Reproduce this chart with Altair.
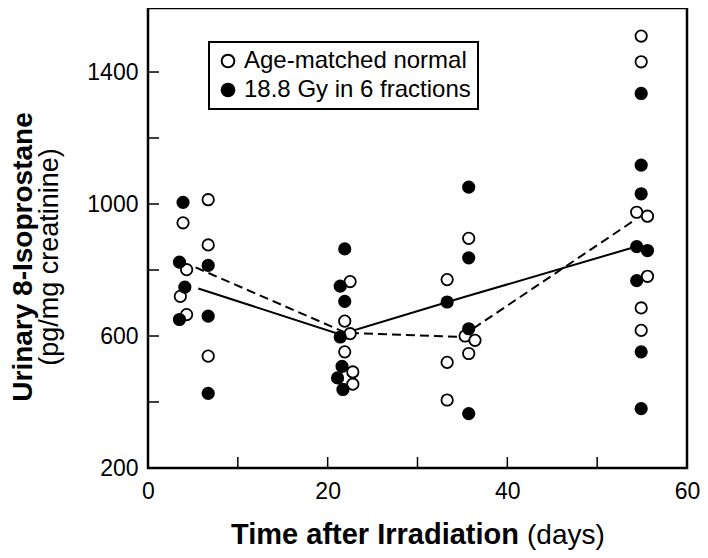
import altair as alt
import pandas as pd

# ---- data ----
normal_label = "Age-matched normal"
irr_label = "18.8 Gy in 6 fractions"

normal_day = [6.7, 3.9, 6.7, 4.3, 3.6, 4.3, 6.7,
              22.5, 21.9, 22.5, 21.9, 22.8, 22.8,
              35.7, 33.3, 35.3, 36.4, 35.7, 33.3, 33.3,
              54.9, 54.9, 54.4, 55.6, 55.6, 54.9, 54.9]
normal_val = [1013, 943, 876, 801, 720, 665, 539,
              765, 645, 607, 552, 491, 454,
              896, 771, 600, 587, 547, 520, 406,
              1509, 1431, 975, 963, 781, 685, 617]

irr_day = [3.9, 3.5, 6.7, 4.1, 3.5, 6.7, 6.7,
           21.9, 21.4, 21.9, 21.4, 21.6, 21.1, 21.7,
           35.7, 35.7, 33.3, 35.7, 35.7,
           54.9, 54.9, 54.9, 54.4, 55.6, 54.4, 54.9, 54.9]
irr_val = [1005, 824, 814, 748, 650, 660, 426,
           864, 751, 705, 597, 508, 473, 438,
           1051, 837, 703, 622, 365,
           1335, 1118, 1031, 871, 859, 768, 552, 380]

normal_line_day = [5.3, 22.0, 34.8, 54.1]
normal_line_val = [808, 610, 597, 950]
irr_line_day = [5.6, 21.4, 35.2, 54.1]
irr_line_val = [744, 605, 718, 869]

x_ticks = [0, 10, 20, 30, 40, 50, 60]
x_labels = [0, 20, 40, 60]
y_ticks = [200, 400, 600, 800, 1000, 1200, 1400]
y_labels = [200, 600, 1000, 1400]

x_title_bold = "Time after Irradiation"
x_title_norm = "(days)"
y_title_bold = "Urinary 8-Isoprostane"
y_title_norm = "(pg/mg creatinine)"

# ---- tables ----
pts = pd.DataFrame({
    "day": normal_day + irr_day,
    "val": normal_val + irr_val,
    "series": [normal_label] * len(normal_day) + [irr_label] * len(irr_day),
})
nline = pd.DataFrame({"day": normal_line_day, "val": normal_line_val})
iline = pd.DataFrame({"day": irr_line_day, "val": irr_line_val})
xt = pd.DataFrame({"day": x_ticks})
yt = pd.DataFrame({"val": y_ticks})

W, H = 539, 460
FONT = "Liberation Sans"

xscale = alt.Scale(domain=[0, 60], nice=False, zero=False)
yscale = alt.Scale(domain=[200, 1594], nice=False, zero=False)

xaxis = alt.Axis(values=x_labels, title=None, ticks=False, domain=False, grid=False,
                 labelFontSize=23, labelFont=FONT, labelColor="black", labelPadding=12,
                 labelFlush=False, format="d")
yaxis = alt.Axis(values=y_labels, title=None, ticks=False, domain=False, grid=False,
                 labelFontSize=23, labelFont=FONT, labelColor="black", labelPadding=10,
                 format="d")

X = alt.X("day:Q", scale=xscale, axis=xaxis)
Y = alt.Y("val:Q", scale=yscale, axis=yaxis)

xtick = alt.Chart(xt).mark_rule(color="black", strokeWidth=1.5).encode(
    x=alt.X("day:Q", scale=xscale, axis=xaxis),
    y=alt.value(H), y2=alt.value(H - 11))
ytick = alt.Chart(yt).mark_rule(color="black", strokeWidth=1.5).encode(
    y=alt.Y("val:Q", scale=yscale, axis=yaxis),
    x=alt.value(0), x2=alt.value(11))

l_norm = alt.Chart(nline).mark_line(color="black", strokeWidth=2, strokeDash=[9, 5]).encode(x=X, y=Y)
l_irr = alt.Chart(iline).mark_line(color="black", strokeWidth=2).encode(x=X, y=Y)

points = alt.Chart(pts).mark_point(filled=True, shape="circle", size=130, stroke="black",
                                   strokeWidth=1.8, opacity=1).encode(
    x=X, y=Y,
    fill=alt.Fill("series:N",
                  scale=alt.Scale(domain=[normal_label, irr_label], range=["white", "black"]),
                  legend=alt.Legend(title=None, orient="none", legendX=61, legendY=34,
                                    strokeColor="black", fillColor="white", padding=7,
                                    labelFontSize=24, labelFont=FONT, labelColor="black",
                                    labelLimit=600,
                                    symbolSize=160, symbolType="circle",
                                    symbolStrokeColor="black", symbolStrokeWidth=2,
                                    symbolOpacity=1, labelOffset=4, rowPadding=5)),
)

one = pd.DataFrame({"a": [0]})
t1 = alt.Chart(one).mark_text(text=x_title_bold, font=FONT, fontSize=29, fontWeight="bold",
                              align="right", baseline="alphabetic", color="black").encode(
    x=alt.value(371), y=alt.value(536))
t2 = alt.Chart(one).mark_text(text=x_title_norm, font=FONT, fontSize=28,
                              align="left", baseline="alphabetic", color="black").encode(
    x=alt.value(379), y=alt.value(536))
t3 = alt.Chart(one).mark_text(text=y_title_bold, font=FONT, fontSize=28, fontWeight="bold",
                              angle=270, align="center", baseline="alphabetic", color="black").encode(
    x=alt.value(-116), y=alt.value(249))
t4 = alt.Chart(one).mark_text(text=y_title_norm, font=FONT, fontSize=27,
                              angle=270, align="center", baseline="alphabetic", color="black").encode(
    x=alt.value(-90), y=alt.value(249))

chart = alt.layer(xtick, ytick, l_norm, l_irr, points, t1, t2, t3, t4).properties(
    width=W, height=H,
    autosize=alt.AutoSizeParams(type="none"),
    padding={"left": 140, "top": 0, "right": 13, "bottom": 82},
).configure_view(stroke="black", strokeWidth=2.5).configure_legend(strokeWidth=2)

chart.save("out.html", embed_options={"renderer": "svg", "actions": False})
